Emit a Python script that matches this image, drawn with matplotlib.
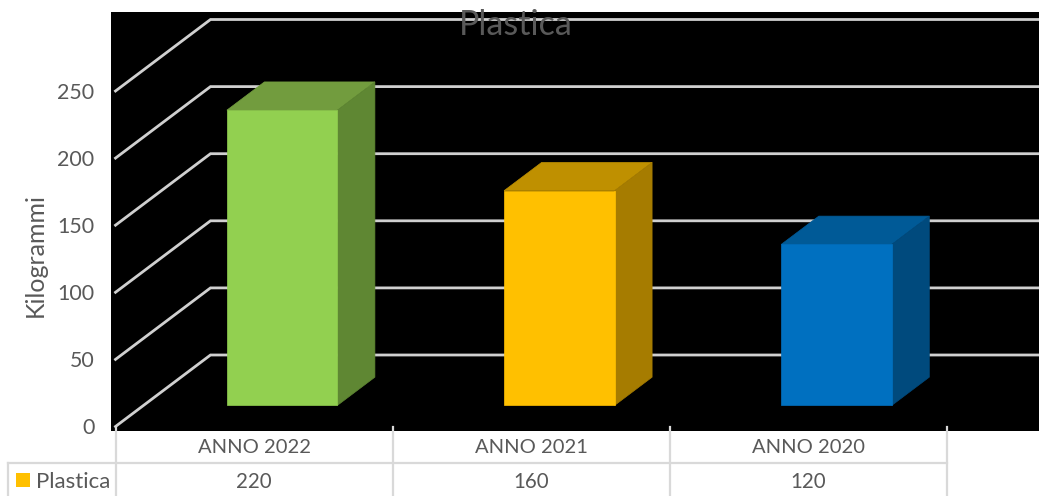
import matplotlib
matplotlib.use("Agg")
import matplotlib.pyplot as plt
from matplotlib.patches import Polygon, Rectangle
from matplotlib.lines import Line2D

plt.rcParams['font.family'] = ['Lato', 'DejaVu Sans']

categories = ["ANNO 2022", "ANNO 2021", "ANNO 2020"]
values = [220, 160, 120]
y_ticks = [0, 50, 100, 150, 200, 250]
front_colors = ["#92D050", "#FFC000", "#0070C0"]
top_colors = ["#729C3E", "#BF9000", "#005A97"]
side_colors = ["#5F8733", "#A67C00", "#004A7D"]
series_name = "Plastica"
y_label = "Kilogrammi"

W, H = 1039, 496
GREY = "#595959"
LINE = "#D9D9D9"
GRID = "#D0D0D0"

# one category = 277.2 px, one unit of value = 1.342 px
X_PX = 277.2
Y_PX = 1.342
# floor depth expressed in data units
DEPTH_X = 95 / X_PX
DEPTH_Y = 71.5 / Y_PX
BAR_W = 110.5 / X_PX
D_FRONT, D_BACK = 0.295, 0.69


def proj(x, y, d):
    return x + d * DEPTH_X, y + d * DEPTH_Y


fig = plt.figure(figsize=(W / 100, H / 100), dpi=100, facecolor="white")
left, right, top, bottom = 111, 1039, 12, 431
ax = fig.add_axes([left / W, 1 - bottom / H, (right - left) / W, (bottom - top) / H])
ax.set_facecolor("black")
ax.set_xlim(-0.5 + (left - 115.5) / X_PX, -0.5 + (right - 115.5) / X_PX)
ax.set_ylim((426.5 - bottom) / Y_PX, (426.5 - top) / Y_PX)
for s in ax.spines.values():
    s.set_visible(False)

# gridlines: oblique on the side wall, then flat on the back wall
for t in y_ticks:
    x0, y0 = proj(-0.5, t, 0)
    x1, y1 = proj(-0.5, t, 1)
    ax.plot([x0, x1, 3.5], [y0, y1, y1], color=GRID, lw=2.0, zorder=1,
            solid_joinstyle="miter")

for i, v in enumerate(values):
    xl, xr = i - BAR_W / 2, i + BAR_W / 2
    # front face
    a = proj(xl, 0, D_FRONT)
    b = proj(xr, 0, D_FRONT)
    c = proj(xr, v, D_FRONT)
    d = proj(xl, v, D_FRONT)
    # back face corners
    e = proj(xr, 0, D_BACK)
    f = proj(xr, v, D_BACK)
    g = proj(xl, v, D_BACK)
    ax.add_patch(Polygon([d, c, f, g], closed=True, fc=top_colors[i], ec=top_colors[i], lw=0.5, zorder=3))
    ax.add_patch(Polygon([b, e, f, c], closed=True, fc=side_colors[i], ec=side_colors[i], lw=0.5, zorder=3))
    ax.add_patch(Polygon([a, b, c, d], closed=True, fc=front_colors[i], ec=front_colors[i], lw=0.5, zorder=4))

ax.set_yticks(y_ticks)
ax.set_xticks(range(len(categories)))
ax.set_xticklabels(categories)
ax.tick_params(axis="y", length=0, pad=12, labelsize=15.4, labelcolor=GREY)
ax.tick_params(axis="x", length=0, pad=6, labelsize=14.5, labelcolor=GREY)

fig.text(35 / W, 1 - 255 / H, y_label, rotation=90, fontsize=18, color=GREY,
         ha="center", va="center")
fig.text(516 / W, 1 - 25 / H, series_name, fontsize=24.5, color=GREY,
         ha="center", va="center", zorder=10)

# data table under the plot
xform = ax.get_xaxis_transform()
for edge in [-0.5, 0.5, 1.5, 2.5]:
    ax.plot([edge, edge], [(bottom - 427) / (bottom - top), -(H - bottom) / (bottom - top)],
            color=LINE, lw=1.6, transform=xform, clip_on=False, zorder=6)
fig.add_artist(Line2D([8 / W, 947 / W], [1 - 463 / H, 1 - 463 / H], color=LINE, lw=1.6))
fig.add_artist(Line2D([8 / W, 8 / W], [1 - 463 / H, 0], color=LINE, lw=1.6))

row_y = -(482 - bottom) / (bottom - top)
for i, v in enumerate(values):
    ax.text(i, row_y, str(v), transform=xform, ha="center", va="center",
            fontsize=14.8, color=GREY, clip_on=False)

fig.add_artist(Rectangle((16 / W, 1 - 487 / H), 14 / W, 14 / H, fc="#FFC000", ec="none",
                         transform=fig.transFigure))
fig.text(36 / W, 1 - 482 / H, series_name, fontsize=16, color=GREY, ha="left", va="center")

fig.savefig("out.png", dpi=100, facecolor="white")
